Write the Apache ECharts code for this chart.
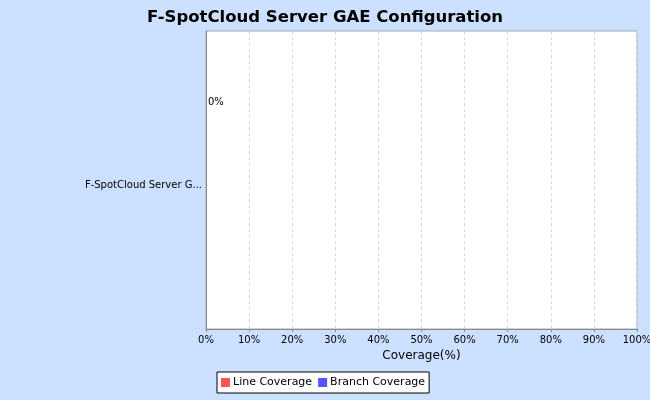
<!DOCTYPE html>
<html><head><meta charset="utf-8">
<script src="https://cdn.jsdelivr.net/npm/echarts@6/dist/echarts.min.js"></script>
<style>html,body{margin:0;padding:0;background:#cce0ff}#c{width:650px;height:400px}</style>
</head><body><div id="c"></div>
<script>
var categories = ["F-SpotCloud Server G..."];
var lineCoverage = [0];
var branchCoverage = [null];
var xTicks = [0,10,20,30,40,50,60,70,80,90,100];

var chart = echarts.init(document.getElementById('c'), null, {renderer:'canvas'});
var font = 'DejaVu Sans, sans-serif';
chart.setOption({
  backgroundColor: '#cce0ff',
  animation: false,
  title: {text: 'F-SpotCloud Server GAE Configuration', left: 'center', top: 4,
    textStyle: {fontFamily: font, fontWeight: 'bold', fontSize: 16.5, color: '#000'}},
  legend: {bottom: 7, left: 217, itemWidth: 9, itemHeight: 9, itemGap: 6, icon: 'rect',
    backgroundColor: '#fff', borderColor: '#000', borderWidth: 1, padding: [5,4,5,4],
    textStyle: {fontFamily: font, fontSize: 11, color: '#000', padding:[0,0,0,-2]},
    data: ['Line Coverage','Branch Coverage']},
  grid: {left: 206, right: 13, top: 31, bottom: 71, show: true, backgroundColor: '#fff',
    borderColor: '#a0a8b8', borderWidth: 1, containLabel: false, outerBoundsMode: 'none'},
  xAxis: {type: 'value', min: 0, max: 100, interval: 10,
    name: 'Coverage(%)', nameLocation: 'middle', nameGap: 21,
    nameTextStyle: {fontFamily: font, fontSize: 12, color: '#000'},
    axisLine: {show: true, lineStyle: {color: '#888'}},
    axisTick: {show: true, length: 3, lineStyle: {color: '#888'}},
    axisLabel: {fontFamily: font, fontSize: 10, color: '#000', margin: 6,
      formatter: function(v){return v + '%';}},
    splitLine: {show: true, lineStyle: {color: '#d8d8d8', type: [3,3]}}},
  yAxis: {type: 'category', data: categories, inverse: true,
    axisLine: {show: true, lineStyle: {color: '#888'}},
    axisTick: {show: false},
    axisLabel: {fontFamily: font, fontSize: 10, color: '#000', margin: 4, verticalAlign: 'top', lineHeight: 10},
    splitLine: {show: false}},
  series: [
    {name: 'Line Coverage', type: 'bar', data: lineCoverage, barWidth: 120, barGap: '30%',
      itemStyle: {color: '#ff5555'},
      label: {show: true, position: 'right', distance: 2, fontFamily: font, fontSize: 10, color: '#000',
        formatter: function(p){return p.value + '%';}}},
    {name: 'Branch Coverage', type: 'bar', data: branchCoverage, barWidth: 120,
      itemStyle: {color: '#5555ff'},
      label: {show: true, position: 'right', distance: 2, fontFamily: font, fontSize: 10, color: '#000',
        formatter: function(p){return p.value + '%';}}}
  ]
});
</script></body></html>
